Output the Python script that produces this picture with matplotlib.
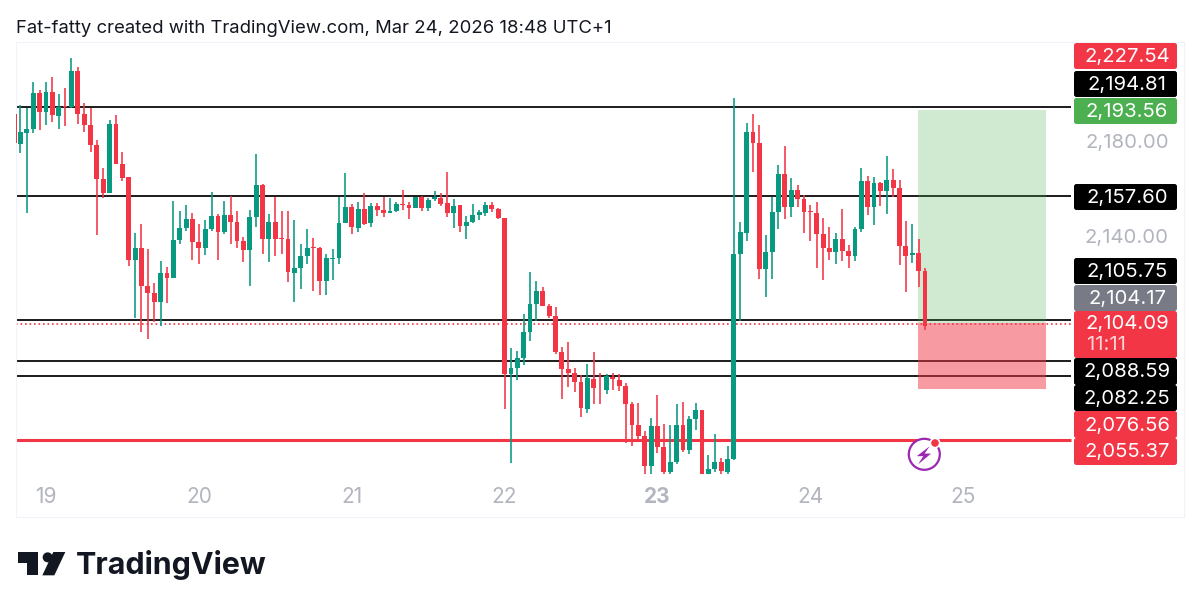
import matplotlib
matplotlib.use("Agg")
import matplotlib.pyplot as plt
import numpy as np
from matplotlib.patches import FancyBboxPatch, Circle, Polygon, Rectangle

W, H = 1200, 611
FONT = "Inter"

# Candle data: direction (g = up, r = down), high, body top, body bottom, low
directions = list("r" "g" "g" "g" "r" "g" "r" "g" "r" "g" "r" "r" "r" "r" "r" "g" "r" "r" "r" "g"
                  "r" "r" "r" "g" "r" "g" "g" "g" "r" "r" "g" "g" "r" "g" "r" "r" "r" "g" "g" "r"
                  "g" "r" "r" "r" "g" "g" "g" "r" "r" "g" "g" "g" "g" "r" "g" "r" "g" "r" "r" "g"
                  "g" "r" "r" "g" "r" "g" "g" "r" "r" "g" "r" "g" "g" "g" "g" "r" "r" "r" "g" "g"
                  "g" "g" "g" "r" "r" "r" "r" "r" "r" "r" "g" "r" "r" "g" "r" "r" "r" "r" "r" "r"
                  "g" "r" "r" "g" "g" "r" "g" "g" "r" "g" "g" "r" "g" "g" "g" "g" "r" "r" "g" "g"
                  "g" "r" "g" "r" "r" "r" "r" "r" "r" "g" "r" "r" "g" "g" "r" "g" "r" "g" "r" "r"
                  "r" "g" "r" "r")

highs = [2202.0,2195.7,2194.4,2205.3,2202.0,2205.3,2207.6,2200.3,2203.1,2215.6,
         2211.5,2196.8,2194.4,2181.0,2169.2,2189.4,2191.5,2176.2,2165.7,2142.1,
         2145.8,2135.3,2121.2,2130.3,2127.9,2155.4,2151.2,2153.8,2150.6,2145.8,
         2147.4,2159.1,2150.0,2155.5,2157.7,2151.2,2140.4,2151.7,2175.1,2162.5,
         2149.9,2157.4,2151.4,2151.4,2147.5,2137.4,2143.6,2139.9,2136.3,2133.5,
         2135.3,2157.3,2167.2,2154.2,2155.3,2158.7,2154.8,2154.5,2157.0,2156.6,
         2154.9,2160.1,2155.2,2157.4,2157.7,2156.7,2159.5,2158.7,2167.5,2156.3,
         2153.9,2149.2,2154.2,2151.7,2155.3,2155.3,2152.4,2148.5,2093.7,2092.7,
         2108.1,2125.9,2121.8,2119.6,2112.3,2110.9,2094.4,2096.2,2085.3,2082.5,
         2087.0,2092.1,2083.6,2083.0,2083.2,2082.9,2079.0,2071.4,2071.0,2059.1,
         2064.4,2074.2,2061.9,2061.5,2070.3,2071.4,2065.4,2070.7,2067.9,2048.9,
         2058.0,2047.8,2052.8,2198.5,2146.7,2188.2,2192.0,2187.2,2141.1,2157.2,
         2170.8,2178.5,2165.2,2162.3,2158.0,2154.0,2154.9,2148.3,2144.5,2142.0,
         2152.1,2137.1,2144.8,2169.4,2165.9,2165.6,2163.3,2174.3,2168.9,2164.2,
         2147.0,2146.0,2139.5,2127.6]
body_tops = [2191.9,2184.3,2185.7,2201.0,2201.0,2201.3,2201.4,2195.0,2195.4,2210.2,
             2210.2,2191.9,2187.4,2179.2,2164.6,2187.7,2187.7,2171.2,2165.4,2136.0,
             2136.0,2119.9,2117.0,2125.5,2125.5,2139.3,2144.4,2147.9,2147.9,2138.3,
             2143.9,2149.2,2149.2,2149.6,2149.6,2146.7,2138.6,2148.6,2162.2,2162.2,
             2146.5,2146.6,2140.1,2139.4,2127.5,2132.5,2135.9,2136.3,2135.6,2131.7,
             2131.8,2146.1,2152.9,2152.9,2152.0,2152.0,2153.6,2153.6,2151.8,2151.5,
             2154.1,2154.3,2153.8,2157.3,2157.3,2155.9,2157.0,2156.6,2154.5,2153.6,
             2153.8,2146.8,2149.6,2151.0,2153.9,2153.9,2152.2,2148.5,2085.7,2089.5,
             2100.7,2112.4,2117.9,2117.9,2111.6,2107.1,2092.3,2084.9,2083.3,2079.7,
             2081.1,2080.9,2077.3,2082.1,2081.8,2080.4,2078.0,2070.4,2061.6,2057.0,
             2061.2,2061.2,2052.4,2046.1,2061.8,2061.8,2064.1,2067.9,2067.9,2043.1,
             2046.2,2046.2,2047.3,2133.2,2142.4,2184.4,2184.4,2179.9,2134.3,2151.0,
             2167.0,2167.0,2160.0,2160.0,2156.5,2151.4,2150.5,2141.6,2136.0,2139.7,
             2139.7,2134.6,2143.8,2163.8,2163.8,2163.1,2163.1,2164.2,2164.2,2160.9,
             2136.7,2133.6,2133.6,2126.0]
body_bottoms = [2179.7,2179.6,2184.1,2185.6,2192.7,2192.7,2191.5,2191.3,2195.1,2195.0,
                2191.9,2187.4,2179.2,2164.6,2159.0,2159.0,2171.2,2165.3,2130.7,2130.7,
                2119.9,2117.0,2113.2,2113.2,2123.3,2123.3,2139.1,2144.4,2138.3,2135.9,
                2135.9,2143.6,2142.6,2142.6,2146.7,2138.6,2135.1,2135.1,2148.6,2139.5,
                2139.5,2139.6,2139.5,2125.9,2125.5,2127.5,2132.5,2135.7,2122.0,2122.0,
                2131.4,2131.5,2146.1,2144.5,2144.4,2145.8,2146.1,2151.8,2150.3,2150.3,
                2151.4,2153.9,2152.4,2152.4,2152.4,2152.5,2156.3,2154.3,2150.4,2150.4,
                2145.1,2145.1,2146.6,2149.6,2150.6,2152.2,2148.2,2082.9,2082.9,2085.7,
                2089.5,2100.7,2112.3,2111.6,2107.1,2092.3,2084.9,2083.3,2079.7,2068.6,
                2068.3,2077.2,2076.9,2076.3,2080.7,2078.0,2070.4,2061.6,2057.0,2044.3,
                2044.4,2052.4,2041.7,2041.7,2045.9,2051.0,2051.0,2064.1,2040.9,2040.9,
                2043.1,2042.2,2042.0,2047.3,2133.4,2142.3,2179.9,2126.9,2126.9,2134.3,
                2151.0,2152.8,2152.9,2156.3,2151.1,2150.8,2141.6,2136.0,2134.3,2134.3,
                2134.6,2132.5,2132.3,2143.8,2153.2,2153.2,2159.5,2159.5,2160.9,2136.7,
                2132.6,2132.7,2126.0,2103.3]
lows = [2179.7,2175.8,2150.3,2184.2,2185.2,2187.4,2188.8,2185.7,2187.1,2194.7,
        2188.0,2184.6,2176.1,2141.4,2156.6,2158.7,2170.9,2163.9,2128.1,2106.5,
        2100.6,2097.5,2104.8,2103.0,2112.7,2123.3,2137.6,2142.9,2130.6,2128.9,
        2132.8,2142.9,2130.6,2141.5,2137.6,2135.9,2130.0,2119.7,2144.7,2133.1,
        2130.0,2132.6,2133.5,2121.6,2113.3,2118.8,2129.0,2117.8,2116.0,2116.0,
        2122.4,2129.3,2146.1,2141.6,2142.6,2145.5,2144.7,2149.3,2148.6,2150.3,
        2150.7,2151.8,2147.9,2152.4,2151.4,2151.3,2155.5,2153.5,2148.6,2144.4,
        2142.7,2139.6,2146.1,2147.6,2149.2,2150.7,2147.9,2068.5,2045.5,2080.4,
        2086.7,2096.8,2105.3,2111.3,2106.3,2091.3,2072.4,2077.6,2075.6,2065.1,
        2066.5,2070.3,2070.2,2074.4,2076.3,2075.9,2054.2,2052.8,2055.5,2040.9,
        2040.9,2049.7,2040.9,2040.9,2045.4,2050.4,2049.4,2059.4,2040.9,2040.9,
        2042.0,2040.9,2040.9,2047.0,2105.2,2138.6,2167.7,2122.7,2115.4,2122.7,
        2143.7,2148.1,2149.0,2153.0,2142.1,2138.6,2127.3,2122.5,2130.6,2129.0,
        2130.4,2127.5,2130.4,2142.5,2149.7,2145.6,2153.6,2150.1,2157.2,2128.5,
        2117.2,2129.7,2119.6,2101.5]

# Horizontal levels and trade box
black_levels = [2194.81, 2157.60, 2105.75, 2088.59, 2082.25]
red_level = 2055.37
last_price = 2104.09
entry_price, stop_price, target_price = 2104.17, 2076.56, 2193.56
day_labels = ["19", "20", "21", "22", "23", "24", "25"]
day_candles = [5, 29, 53, 77, 101, 125, 149]
axis_prices = ["2,180.00", "2,140.00"]
title = "Fat-fatty created with TradingView.com, Mar 24, 2026 18:48 UTC+1"

GREEN, RED = "#089981", "#F23645"

fig = plt.figure(figsize=(W / 100, H / 100), dpi=100, facecolor="white")

def px_rect(x0, y0, x1, y1):
    return [x0 / W, 1 - y1 / H, (x1 - x0) / W, (y1 - y0) / H]

# main price pane
ax = fig.add_axes(px_rect(16, 42, 1184, 517))
STEP = 6.37
X0 = 14.1
ax.set_xlim((16 - X0) / STEP, (1184 - X0) / STEP)
PX_PER = 2.385
ANCHOR = 142.6
ax.set_ylim(2180 - (517 - ANCHOR) / PX_PER, 2180 + (ANCHOR - 42) / PX_PER)
ax.set_yticks([])
ax.set_xticks([])
for s in ax.spines.values():
    s.set_color("#F0F3FA")
    s.set_linewidth(0.8)

line_end = (1071 - X0) / STEP
line_start = (16 - X0) / STEP
ax.hlines(black_levels, line_start, line_end, color="black", lw=1.25, zorder=2)
ax.hlines(red_level, line_start, line_end, color=RED, lw=2.2, zorder=2)
ax.hlines(last_price, line_start, line_end, color=RED, lw=1.2,
          linestyles=(0, (1, 1.7)), zorder=2)

# trade box
bx0, bx1 = (918 - X0) / STEP, (1046 - X0) / STEP
ax.add_patch(Rectangle((bx0, entry_price), bx1 - bx0, target_price - entry_price,
                       fc="#4CAF50", alpha=0.26, lw=0, zorder=3))
ax.add_patch(Rectangle((bx0, stop_price), bx1 - bx0, entry_price - stop_price,
                       fc=RED, alpha=0.5, lw=0, zorder=3))

# candles
idx = np.arange(len(highs))
colors = [GREEN if d == "g" else RED for d in directions]
ax.vlines(idx, lows, highs, colors=colors, lw=1.15, zorder=4)
ax.bar(idx, np.array(body_tops) - np.array(body_bottoms), bottom=body_bottoms,
       width=0.76, color=colors, lw=0, zorder=5)

# day labels
for lab, c in zip(day_labels, day_candles):
    ax.annotate(lab, xy=(c, 0), xycoords=("data", "axes fraction"),
                xytext=(0, 14.4), textcoords="offset points", ha="center", va="center",
                fontsize=15, family=FONT, color="#B2B5BE",
                fontweight="bold" if lab == "23" else "normal")

# overlay in pixel units for labels, logo and the icon
ov = fig.add_axes([0, 0, 1, 1], facecolor="none")
ov.set_xlim(0, W)
ov.set_ylim(H, 0)
ov.axis("off")

ov.text(16, 28.5, title, fontsize=13.32, family=FONT, color="#131722", va="center", ha="left")

boxes = [("2,227.54", 43, 69, RED, "white"),
         ("2,194.81", 71, 97, "black", "white"),
         ("2,193.56", 98, 124, "#4CAF50", "white"),
         ("2,157.60", 184, 210, "black", "white"),
         ("2,105.75", 258, 284, "black", "white"),
         ("2,104.17", 285, 311, "#787B86", "white"),
         ("2,104.09", 311, 358, RED, "white"),
         ("2,088.59", 358, 385, "black", "white"),
         ("2,082.25", 385, 411, "black", "white"),
         ("2,076.56", 411, 438, RED, "white"),
         ("2,055.37", 438, 465, RED, "white")]
for txt, y0, y1, fc, tc in boxes:
    ov.add_patch(FancyBboxPatch((1075, y0 + 1), 101, y1 - y0 - 2,
                                boxstyle="round,pad=1,rounding_size=2.5", fc=fc, ec="none"))
    cy = (y0 + y1) / 2 + 1 if txt != "2,104.09" else 324
    ov.text(1127, cy, txt, fontsize=14.6, family=FONT, color=tc, ha="center", va="center")
ov.text(1087, 345, "11:11", fontsize=14.6, family=FONT, color="#FBD5D8", ha="left", va="center")
ov.text(1127, 143, axis_prices[0], fontsize=14.6, family=FONT, color="#B2B5BE", ha="center", va="center")
ov.text(1127, 238, axis_prices[1], fontsize=14.6, family=FONT, color="#B2B5BE", ha="center", va="center")

# alert icon
PURPLE = "#9C27B0"
ov.add_patch(Circle((924.3, 454.3), 15.5, fc="white", ec=PURPLE, lw=1.6, zorder=6))
bolt = (np.array([(85, 445), (55, 468), (70, 468), (58, 487), (88, 462), (73, 462)]) - (71, 466)) * 1.3 / 3 + (923.7, 455.3)
ov.add_patch(Polygon(bolt, closed=True, fc=PURPLE, ec="none", zorder=7))
ov.add_patch(Circle((935, 443), 5.5, fc="white", ec="none", zorder=7))
ov.add_patch(Circle((935, 443), 3.8, fc=RED, ec="none", zorder=8))

# logo
LOGO = "#131722"
t_shape = np.array([(55, 215), (115, 215), (115, 285), (80, 285), (80, 250), (55, 250)]) / 3 + (0, 480)
slash = np.array([(160, 216), (196, 216), (163, 286), (127, 286)]) / 3 + (0, 480)
ov.add_patch(Polygon(t_shape, closed=True, fc=LOGO, ec="none"))
ov.add_patch(Polygon(slash, closed=True, fc=LOGO, ec="none"))
ov.add_patch(Circle((143 / 3, 480 + 232 / 3), 5, fc=LOGO, ec="none"))
ov.text(76, 565, "TradingView", fontsize=21.9, family=FONT, fontweight="bold",
        color=LOGO, ha="left", va="center")

fig.savefig("out.png", dpi=100)
